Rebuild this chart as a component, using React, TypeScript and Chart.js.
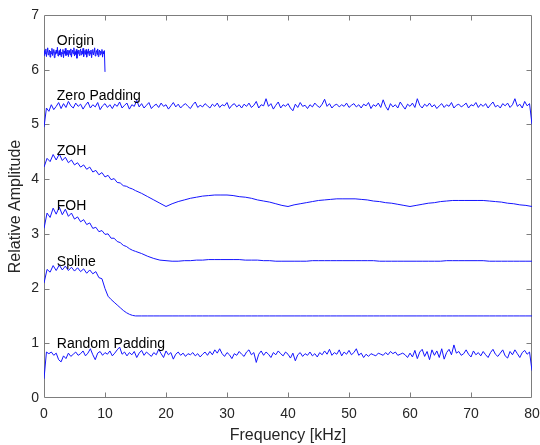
import { useEffect, useRef } from 'react';
import { Chart, registerables } from 'chart.js';

Chart.register(...registerables);

// ---------- data ----------
const ORIGIN_STEP = 0.1; // kHz
const PAD_STEP = 0.4; // kHz

const ORIGIN = [
  6.26, 6.35, 6.29, 6.38, 6.24, 6.33, 6.40, 6.27, 6.31, 6.36,
  6.23, 6.34, 6.29, 6.39, 6.26, 6.32, 6.37, 6.22, 6.33, 6.28,
  6.36, 6.30, 6.41, 6.25, 6.31, 6.35, 6.27, 6.38, 6.24, 6.32,
  6.29, 6.37, 6.22, 6.34, 6.30, 6.39, 6.26, 6.33, 6.28, 6.36,
  6.24, 6.35, 6.31, 6.27, 6.38, 6.23, 6.32, 6.36, 6.29, 6.40,
  6.25, 6.33, 6.28, 6.37, 6.21, 6.34, 6.30, 6.36, 6.26, 6.32,
  6.38, 6.27, 6.34, 6.29, 6.39, 6.24, 6.31, 6.35, 6.28, 6.37,
  6.23, 6.33, 6.30, 6.38, 6.26, 6.34, 6.29, 6.36, 6.22, 6.32,
  6.37, 6.27, 6.33, 6.40, 6.25, 6.31, 6.35, 6.28, 6.38, 6.24,
  6.32, 6.36, 6.27, 6.34, 6.30, 6.37, 6.23, 6.33, 6.29, 6.35,
  5.96,
];

const ZERO_PADDING = [
  4.95, 5.30, 5.24, 5.36, 5.27, 5.33, 5.40, 5.29, 5.38, 5.31,
  5.42, 5.34, 5.30, 5.39, 5.33, 5.37, 5.28, 5.35, 5.41, 5.30,
  5.36, 5.32, 5.40, 5.27, 5.34, 5.38, 5.31, 5.36, 5.29, 5.37,
  5.33, 5.41, 5.30, 5.35, 5.39, 5.28, 5.36, 5.33, 5.44, 5.32,
  5.38, 5.30, 5.35, 5.40, 5.29, 5.34, 5.37, 5.31, 5.39, 5.33,
  5.36, 5.28, 5.34, 5.40, 5.32, 5.37, 5.30, 5.35, 5.38, 5.33,
  5.29, 5.36, 5.41, 5.31, 5.35, 5.32, 5.38, 5.34, 5.30, 5.37,
  5.33, 5.39, 5.31, 5.36, 5.34, 5.40, 5.29, 5.35, 5.38, 5.32,
  5.36, 5.30, 5.37, 5.33, 5.39, 5.31, 5.35, 5.42, 5.30, 5.36,
  5.34, 5.47, 5.33, 5.38, 5.28, 5.35, 5.41, 5.30, 5.36, 5.33,
  5.38, 5.30, 5.25, 5.37, 5.31, 5.40, 5.33, 5.35, 5.29, 5.36,
  5.32, 5.39, 5.34, 5.31, 5.37, 5.46, 5.33, 5.38, 5.30, 5.35,
  5.37, 5.32, 5.36, 5.33, 5.39, 5.31, 5.35, 5.38, 5.32, 5.36,
  5.30, 5.37, 5.34, 5.40, 5.29, 5.36, 5.33, 5.39, 5.31, 5.45,
  5.33, 5.26, 5.38, 5.32, 5.36, 5.30, 5.41, 5.34, 5.28, 5.37,
  5.33, 5.39, 5.31, 5.47, 5.35, 5.30, 5.37, 5.33, 5.39, 5.32,
  5.36, 5.29, 5.34, 5.38, 5.31, 5.36, 5.33, 5.40, 5.30, 5.35,
  5.37, 5.32, 5.35, 5.39, 5.30, 5.36, 5.34, 5.40, 5.31, 5.37,
  5.33, 5.38, 5.30, 5.36, 5.41, 5.32, 5.35, 5.30, 5.38, 5.34,
  5.39, 5.31, 5.36, 5.47, 5.33, 5.37, 5.30, 5.42, 5.34, 5.38,
  5.00,
];

const RANDOM_PADDING = [
  0.35, 0.84, 0.81, 0.84, 0.78, 0.82, 0.70, 0.66, 0.77, 0.72,
  0.82, 0.76, 0.80, 0.84, 0.78, 0.81, 0.86, 0.77, 0.82, 0.90,
  0.79, 0.70, 0.82, 0.85, 0.78, 0.83, 0.80, 0.86, 0.77, 0.82,
  0.88, 0.93, 0.80, 0.84, 0.77, 0.83, 0.79, 0.85, 0.74, 0.82,
  0.87, 0.78, 0.84, 0.80, 0.76, 0.83, 0.79, 0.89, 0.81, 0.74,
  0.86, 0.79, 0.83, 0.71, 0.80, 0.84, 0.78, 0.82, 0.76, 0.81,
  0.79, 0.83, 0.77, 0.81, 0.75, 0.80, 0.84, 0.78, 0.85, 0.79,
  0.88, 0.82, 0.90, 0.81, 0.76, 0.83, 0.79, 0.72, 0.81, 0.78,
  0.85, 0.80, 0.76, 0.84, 0.88, 0.79, 0.83, 0.65, 0.80, 0.86,
  0.78, 0.84, 0.80, 0.74, 0.83, 0.79, 0.86, 0.81, 0.77, 0.84,
  0.80, 0.73, 0.82, 0.68, 0.79, 0.83, 0.76, 0.81, 0.78, 0.84,
  0.77, 0.81, 0.75, 0.83, 0.79, 0.86, 0.80, 0.89, 0.78, 0.83,
  0.80, 0.88, 0.77, 0.84, 0.80, 0.87, 0.79, 0.83, 0.90, 0.78,
  0.82, 0.74, 0.80, 0.76, 0.81, 0.79, 0.77, 0.82, 0.80, 0.78,
  0.83, 0.79, 0.85, 0.81, 0.84, 0.78, 0.80, 0.82, 0.79, 0.74,
  0.82, 0.75, 0.87, 0.72, 0.84, 0.89, 0.76, 0.85, 0.70, 0.88,
  0.78, 0.86, 0.74, 0.90, 0.71, 0.83, 0.89, 0.79, 0.97, 0.82,
  0.85, 0.78, 0.81, 0.88, 0.80, 0.75, 0.86, 0.79, 0.83, 0.77,
  0.85, 0.79, 0.74, 0.83, 0.89, 0.80, 0.76, 0.82, 0.88, 0.77,
  0.73, 0.85, 0.79, 0.88, 0.81, 0.74, 0.83, 0.87, 0.80, 0.84,
  0.50,
];

// frequency grid of the interpolated spectra: 0..15 kHz every 0.5, then 16..80 every 1
const INTERP_FREQS = [
  0, 0.5, 1, 1.5, 2, 2.5, 3, 3.5, 4, 4.5, 5, 5.5, 6, 6.5, 7, 7.5,
  8, 8.5, 9, 9.5, 10, 10.5, 11, 11.5, 12, 12.5, 13, 13.5, 14, 14.5, 15,
  16, 17, 18, 19, 20, 21, 22, 23, 24, 25, 26, 27, 28, 29, 30,
  31, 32, 33, 34, 35, 36, 37, 38, 39, 40, 41, 42, 43, 44, 45,
  46, 47, 48, 49, 50, 51, 52, 53, 54, 55, 56, 57, 58, 59, 60,
  61, 62, 63, 64, 65, 66, 67, 68, 69, 70, 71, 72, 73, 74, 75,
  76, 77, 78, 79, 80,
];

const ZOH = [
  4.22, 4.38, 4.32, 4.45, 4.35, 4.46, 4.34, 4.40, 4.30, 4.35, 4.26, 4.30, 4.22, 4.26, 4.18, 4.22,
  4.13, 4.16, 4.08, 4.12, 4.04, 4.07, 3.99, 4.01, 3.94, 3.93, 3.88, 3.87, 3.84, 3.82, 3.79,
  3.74, 3.68, 3.62, 3.56, 3.50,
  3.55, 3.59, 3.62, 3.65, 3.67, 3.69, 3.70, 3.71, 3.71, 3.71,
  3.70, 3.68, 3.67, 3.65, 3.62, 3.60, 3.58, 3.55, 3.52, 3.50,
  3.53, 3.55, 3.57, 3.59, 3.61, 3.62, 3.63, 3.64, 3.64, 3.64,
  3.64, 3.63, 3.62, 3.60, 3.59, 3.57, 3.56, 3.54, 3.52, 3.50,
  3.52, 3.54, 3.56, 3.57, 3.59, 3.60, 3.61, 3.61, 3.61, 3.61,
  3.61, 3.61, 3.60, 3.59, 3.58, 3.56, 3.55, 3.53, 3.52, 3.50,
];

const FOH = [
  3.10, 3.38, 3.30, 3.47, 3.36, 3.49, 3.35, 3.45, 3.32, 3.38, 3.27, 3.31, 3.22, 3.26, 3.17, 3.20,
  3.10, 3.12, 3.04, 3.06, 2.99, 3.00, 2.92, 2.92, 2.86, 2.84, 2.79, 2.77, 2.73, 2.70, 2.68,
  2.64, 2.59, 2.55, 2.52, 2.51,
  2.50, 2.50, 2.51, 2.51, 2.52, 2.52, 2.53, 2.53, 2.53, 2.53,
  2.53, 2.53, 2.52, 2.52, 2.52, 2.51, 2.51, 2.50, 2.50, 2.50,
  2.50, 2.50, 2.50, 2.51, 2.51, 2.51, 2.51, 2.51, 2.51, 2.51,
  2.51, 2.51, 2.51, 2.51, 2.50, 2.50, 2.50, 2.50, 2.50, 2.50,
  2.50, 2.50, 2.50, 2.50, 2.50, 2.51, 2.51, 2.51, 2.51, 2.51,
  2.51, 2.51, 2.50, 2.50, 2.50, 2.50, 2.50, 2.50, 2.50, 2.50,
];

const SPLINE = [
  2.10, 2.35, 2.30, 2.42, 2.33, 2.43, 2.34, 2.41, 2.33, 2.39, 2.32, 2.38, 2.31, 2.36, 2.28, 2.34,
  2.27, 2.31, 2.20, 2.18, 2.00, 1.86, 1.80, 1.75, 1.70, 1.65, 1.60, 1.56, 1.53, 1.51, 1.50,
  1.50, 1.50, 1.50, 1.50, 1.50,
  1.50, 1.50, 1.50, 1.50, 1.50, 1.50, 1.50, 1.50, 1.50, 1.50,
  1.50, 1.50, 1.50, 1.50, 1.50, 1.50, 1.50, 1.50, 1.50, 1.50,
  1.50, 1.50, 1.50, 1.50, 1.50, 1.50, 1.50, 1.50, 1.50, 1.50,
  1.50, 1.50, 1.50, 1.50, 1.50, 1.50, 1.50, 1.50, 1.50, 1.50,
  1.50, 1.50, 1.50, 1.50, 1.50, 1.50, 1.50, 1.50, 1.50, 1.50,
  1.50, 1.50, 1.50, 1.50, 1.50, 1.50, 1.50, 1.50, 1.50, 1.50,
];

const X_TICKS = [0, 10, 20, 30, 40, 50, 60, 70, 80];
const Y_TICKS = [0, 1, 2, 3, 4, 5, 6, 7];

const LABEL_TEXTS = ['Origin', 'Zero Padding', 'ZOH', 'FOH', 'Spline', 'Random Padding'];
const LABEL_X = [2.1, 2.1, 2.1, 2.1, 2.1, 2.1];
const LABEL_Y = [6.52, 5.52, 4.51, 3.5, 2.49, 0.98];

// ---------- helpers ----------
const FONT = '"Liberation Sans", Arial, Helvetica, sans-serif';
const LINE_COLOR = 'rgb(20,20,255)';
const AXIS_COLOR = '#7d7d7d';
const TEXT_COLOR = '#262626';

function gridPoints(values: number[], step: number) {
  return values.map((v, i) => ({ x: Math.round(i * step * 1000) / 1000, y: v }));
}
function pairPoints(xs: number[], ys: number[]) {
  return ys.map((v, i) => ({ x: xs[i], y: v }));
}

const framePlugin = {
  id: 'matlabFrame',
  beforeDatasetsDraw(chart: any) {
    const { ctx, chartArea, scales } = chart;
    const { left, right, top, bottom } = chartArea;
    const L = Math.round(left) + 0.5;
    const R = Math.round(right) - 0.5;
    const T = Math.round(top) + 0.5;
    const B = Math.round(bottom) - 0.5;
    ctx.save();
    ctx.strokeStyle = AXIS_COLOR;
    ctx.lineWidth = 1;
    ctx.beginPath();
    ctx.rect(L, T, R - L, B - T);
    ctx.stroke();
    const tl = 5;
    ctx.beginPath();
    X_TICKS.slice(1, -1).forEach((v) => {
      const px = Math.round(scales.x.getPixelForValue(v)) + 0.5;
      ctx.moveTo(px, B);
      ctx.lineTo(px, B - tl);
      ctx.moveTo(px, T);
      ctx.lineTo(px, T + tl);
    });
    Y_TICKS.slice(1, -1).forEach((v) => {
      const py = Math.round(scales.y.getPixelForValue(v)) + 0.5;
      ctx.moveTo(L, py);
      ctx.lineTo(L + tl, py);
      ctx.moveTo(R, py);
      ctx.lineTo(R - tl, py);
    });
    ctx.stroke();
    ctx.restore();
  },
  afterDatasetsDraw(chart: any) {
    const { ctx, scales } = chart;
    ctx.save();
    ctx.fillStyle = '#000';
    ctx.font = `14px ${FONT}`;
    ctx.textAlign = 'left';
    ctx.textBaseline = 'middle';
    LABEL_TEXTS.forEach((t, i) => {
      ctx.fillText(t, scales.x.getPixelForValue(LABEL_X[i]), scales.y.getPixelForValue(LABEL_Y[i]));
    });
    ctx.restore();
  },
};

export default function App() {
  const ref = useRef<HTMLCanvasElement | null>(null);

  useEffect(() => {
    if (!ref.current) return;
    const line = (data: any[]) => ({
      data,
      borderColor: LINE_COLOR,
      borderWidth: 1,
      pointRadius: 0,
      tension: 0,
      fill: false,
    });
    const chart = new Chart(ref.current, {
      type: 'line',
      data: {
        datasets: [
          { label: 'Origin', ...line(gridPoints(ORIGIN, ORIGIN_STEP)) },
          { label: 'Zero Padding', ...line(gridPoints(ZERO_PADDING, PAD_STEP)) },
          { label: 'ZOH', ...line(pairPoints(INTERP_FREQS, ZOH)) },
          { label: 'FOH', ...line(pairPoints(INTERP_FREQS, FOH)) },
          { label: 'Spline', ...line(pairPoints(INTERP_FREQS, SPLINE)) },
          { label: 'Random Padding', ...line(gridPoints(RANDOM_PADDING, PAD_STEP)) },
        ],
      },
      options: {
        responsive: false,
        devicePixelRatio: 1,
        animation: false,
        layout: { padding: { top: 15, right: 8, left: 0, bottom: 0 } },
        plugins: { legend: { display: false }, tooltip: { enabled: false } },
        scales: {
          x: {
            type: 'linear',
            min: 0,
            max: 80,
            afterFit: (s: any) => {
              s.height = 47;
              s.paddingLeft = 0;
              s.paddingRight = 0;
            },
            afterBuildTicks: (s: any) => {
              s.ticks = X_TICKS.map((v) => ({ value: v }));
            },
            ticks: {
              color: TEXT_COLOR,
              font: { size: 14, family: FONT },
              padding: 8,
              maxRotation: 0,
              autoSkip: false,
            },
            grid: { display: false, drawTicks: false },
            border: { display: false },
            title: {
              display: true,
              text: 'Frequency [kHz]',
              color: TEXT_COLOR,
              font: { size: 16, family: FONT },
              padding: { top: 0, bottom: 0 },
            },
          },
          y: {
            type: 'linear',
            min: 0,
            max: 7,
            afterFit: (s: any) => {
              s.width = 44;
              s.paddingTop = 0;
              s.paddingBottom = 0;
            },
            afterBuildTicks: (s: any) => {
              s.ticks = Y_TICKS.map((v) => ({ value: v }));
            },
            ticks: {
              color: TEXT_COLOR,
              font: { size: 14, family: FONT },
              padding: 5,
              autoSkip: false,
            },
            grid: { display: false, drawTicks: false },
            border: { display: false },
            title: {
              display: true,
              text: 'Relative Amplitude',
              color: TEXT_COLOR,
              font: { size: 16, family: FONT },
              padding: { top: 6, bottom: 0 },
            },
          },
        },
      },
      plugins: [framePlugin],
    });
    return () => chart.destroy();
  }, []);

  return (
    <div style={{ position: 'absolute', left: 0, top: 0, width: 540, height: 445, background: '#fff' }}>
      <canvas ref={ref} width={540} height={445} style={{ display: 'block' }} />
    </div>
  );
}
